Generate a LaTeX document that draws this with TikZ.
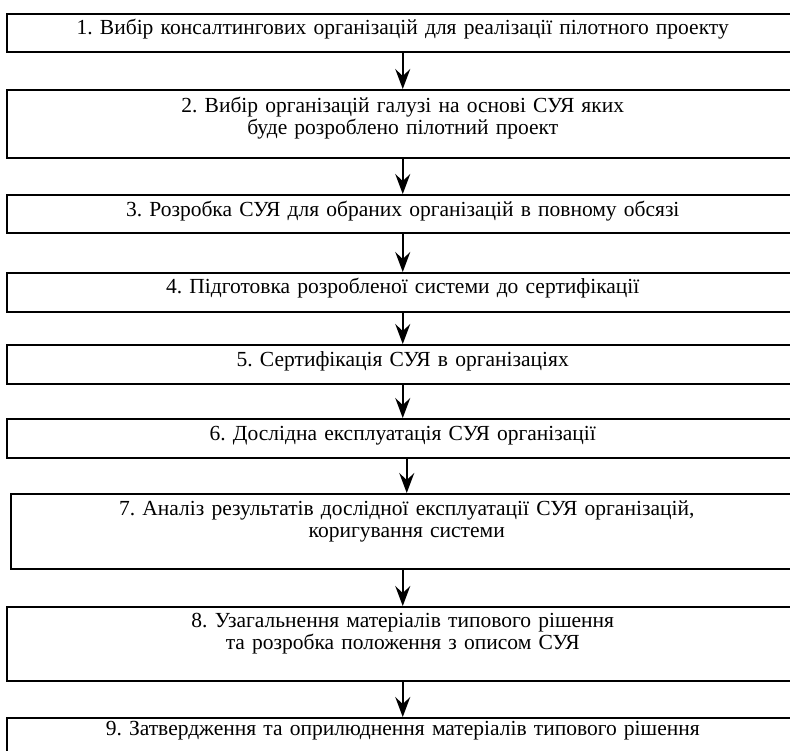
\documentclass[tikz,border=0pt]{standalone}
\usepackage{fontspec}
\setmainfont{Liberation Serif}
\usetikzlibrary{arrows.meta}
\frenchspacing
\tikzstyle{box}=[rectangle,draw=black,line width=1.5pt,minimum width=792pt,inner sep=0pt,anchor=north west]
\tikzstyle{txt}=[text width=780pt,align=center,anchor=base,inner sep=0pt,font=\fontsize{21.5}{22}\selectfont\frenchspacing]
\tikzstyle{arr}=[-{Stealth[length=20pt,width=15pt,inset=7pt]},draw=black,line width=1.5pt]

\begin{document}
\begin{tikzpicture}[x=1pt,y=-1pt]
  \useasboundingbox (0,0) rectangle (790,750);
  \clip (0,0) rectangle (790,750);
  \node[box,minimum height=38pt] (b1) at (6,13) {};
  \node[box,minimum height=68pt] (b2) at (6,89) {};
  \node[box,minimum height=38pt] (b3) at (6,194) {};
  \node[box,minimum height=39pt] (b4) at (6,272) {};
  \node[box,minimum height=39pt] (b5) at (6,344) {};
  \node[box,minimum height=39pt] (b6) at (6,418) {};
  \node[box,minimum height=75pt] (b7) at (10,493) {};
  \node[box,minimum height=74pt] (b8) at (6,606) {};
  \node[box,minimum height=38pt] (b9) at (6,717) {};
  \node[txt] (t1) at ([yshift=-21pt]b1.north) {1. Вибір консалтингових організацій для реалізації пілотного проекту};
  \node[txt] (t2) at ([yshift=-23pt]b2.north) {2. Вибір організацій галузі на основі СУЯ яких\\буде розроблено пілотний проект};
  \node[txt] (t3) at ([yshift=-22pt]b3.north) {3. Розробка СУЯ для обраних організацій в повному обсязі};
  \node[txt] (t4) at ([yshift=-21pt]b4.north) {4. Підготовка розробленої системи до сертифікації};
  \node[txt] (t5) at ([yshift=-22pt]b5.north) {5. Сертифікація СУЯ в організаціях};
  \node[txt] (t6) at ([yshift=-22pt]b6.north) {6. Дослідна експлуатація СУЯ організації};
  \node[txt] (t7) at ([yshift=-22pt]b7.north) {7. Аналіз результатів дослідної експлуатації СУЯ організацій,\\коригування системи};
  \node[txt] (t8) at ([yshift=-21pt]b8.north) {8. Узагальнення матеріалів типового рішення\\та розробка положення з описом СУЯ};
  \node[txt] (t9) at ([yshift=-18pt]b9.north) {9. Затвердження та оприлюднення матеріалів типового рішення};
  \draw[arr] (b1.south) -- (b2.north);
  \draw[arr] (b2.south) -- (b3.north);
  \draw[arr] (b3.south) -- (b4.north);
  \draw[arr] (b4.south) -- (b5.north);
  \draw[arr] (b5.south) -- (b6.north);
  \draw[arr] (b6.south -| b7.north) -- (b7.north);
  \draw[arr] (b7.south -| b8.north) -- (b8.north);
  \draw[arr] (b8.south) -- (b9.north);
\end{tikzpicture}
\end{document}
